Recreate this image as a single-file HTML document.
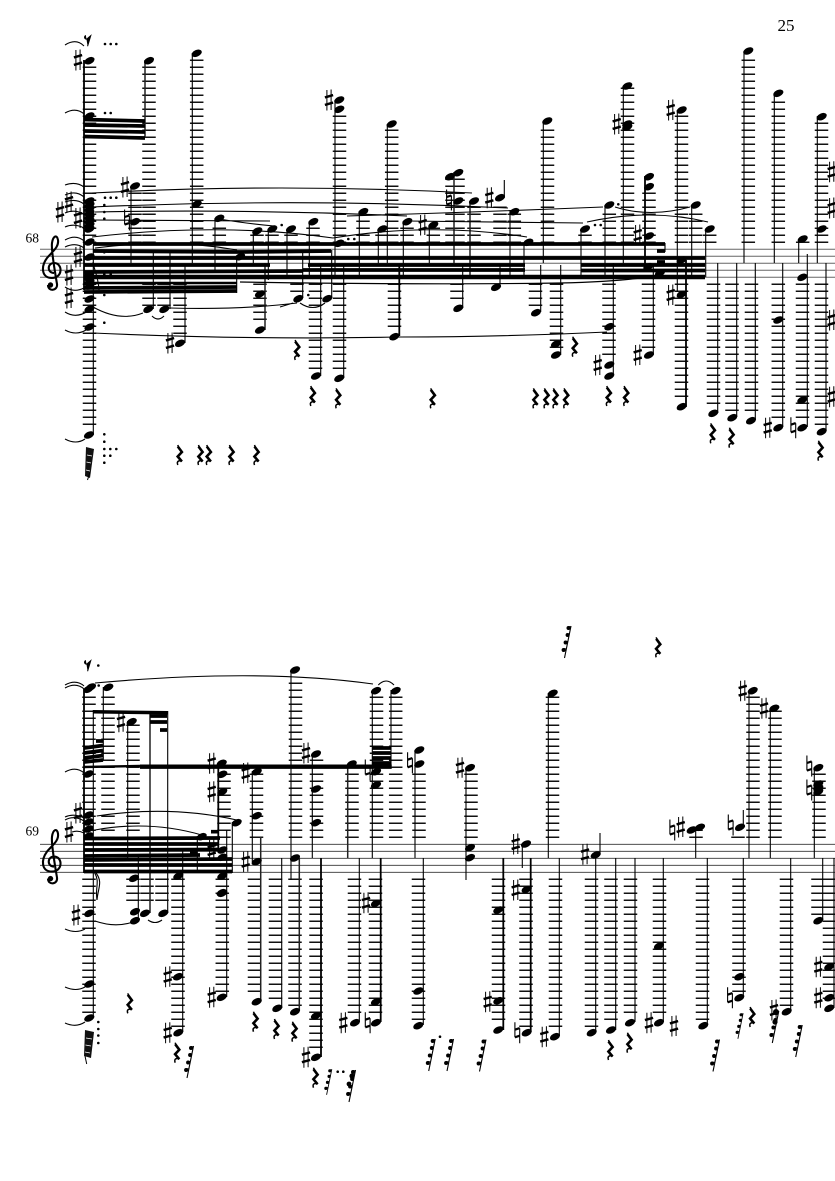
<!DOCTYPE html>
<html><head><meta charset="utf-8"><title>Score page 25</title>
<style>html,body{margin:0;padding:0;background:#fff;width:835px;height:1181px;overflow:hidden}svg{display:block}text{font-family:"Liberation Serif",serif;fill:#000}</style>
</head><body>
<svg width="835" height="1181" viewBox="0 0 835 1181">
<defs>
<ellipse id="n" cx="0" cy="0" rx="5.4" ry="3.3" transform="rotate(-25)"/>
<g id="s" fill="none" stroke="#000"><path d="M-2.1-10V10.5M2.1-10.5V10" stroke-width="1"/><path d="M-4.1-2.6 4.1-4.9M-4.1 4.9 4.1 2.6" stroke-width="2.5"/></g>
<g id="t" fill="none" stroke="#000"><path d="M-2.4-10.5V4.5M2.4-4.5V10.5" stroke-width="1.1"/><path d="M-2.4-3 2.4-4.6M-2.4 4.6 2.4 3" stroke-width="2.2"/></g>
<g id="r"><path fill="none" stroke="#000" stroke-width="2.6" d="M-1.5-8.5 2.6-3-1.6 1.5 2.6 6.5"/><path fill="none" stroke="#000" stroke-width="1.5" d="M-1.5-10-1-8.5M2.6 6.5C0 5-3 6-1.5 10"/></g>
<g id="f"><path d="M3.5-16-3 16" stroke="#000" stroke-width="1.1" fill="none"/><circle cx="1" cy="-14" r="2"/><circle cx=".1" cy="-7" r="2"/><circle cx="-1.9" cy=".5" r="2"/><circle cx="-3.9" cy="8" r="2"/><path d="M1-15.5 3.5-15M-.5-8 2-7.5M-2-.8 .5-.3M-4 6.5-1 7" stroke="#000" stroke-width="1"/></g>
<path id="e" fill="#000" stroke="#000" stroke-width="1" d="M-2-5.2a1.7 1.7 0 1 0 1.8 2.6L2.6-5 -.4 5M-.4-2.8"/>
<g id="c"><path fill="none" stroke="#000" stroke-width="2.1" d="M54 273C47 273 47 263 54 263C63 263 63 278 52 278C41 278 41 266 47 258C53 251 59 247 58 240C57 234 53 236 52 243C51 250 56 278 57 284C58 291 48 292 48 285"/><circle cx="50.5" cy="285" r="2.7"/></g>
</defs>

<text x="777.5" y="31" font-size="17">25</text>
<text x="25.5" y="242.5" font-size="13.5">68</text>
<text x="25.5" y="835.5" font-size="13.5">69</text>

<!-- staves -->
<path fill="none" stroke="#666" stroke-width="1" d="M40 249.3H835M40 256.3H835M40 263.3H835M40 270.3H835M40 277.3H835"/>
<path fill="none" stroke="#333" stroke-width=".9" d="M40 844.3H835M40 851.3H835M40 858.3H835M40 865.3H835M40 872.3H835"/>
<use href="#c"/><use href="#c" y="593.6"/>

<!-- ledger lines -->
<path fill="none" stroke="#111" stroke-width="13.5" stroke-dasharray="1.5 5.5" d="
M89.5 66.55V243M149 66.55V243M196.7 59.55V243M135 192.55V243M219.3 227.55V243M257 234.55V243M272 234.55V243M291 234.55V243M313 227.55V243M339.5 115.55V243M363 220.55V243M382 234.55V243M391.7 129.55V243M407 227.55V243M433.3 227.55V243M452 178.55V243M458 178.55V243M474 206.55V243M500 206.55V243M514.3 213.55V243M547.5 129.55V243M585 234.55V243M609.3 213.55V243M627.5 87.55V243M649 192.55V243M681.5 115.55V243M695.7 213.55V243M709.7 234.55V243M748.3 59.55V243M778.3 101.55V243M802.7 241.55V243M821.5 122.55V243
M89.5 283.55V429M149 283.55V306M164 283.55V306M180 283.55V337M260 283.55V323M297 283.55V292M315.5 283.55V372M339.5 283.55V372M394.5 283.55V330M457 283.55V302M535.5 283.55V306M556.5 283.55V351M609 283.55V358M648.5 283.55V351M681.5 283.55V400M713.5 283.55V407M732 283.55V414M751.5 283.55V414M778.3 283.55V421M802.5 283.55V421M821.5 283.55V428
M89 696.55V831M108 696.55V838M133 724.55V838M224 773.55V838M256.5 773.55V838M295.5 682.55V838M316.5 759.55V838M352 773.55V838M376.5 696.55V838M395.7 696.55V838M419 773.55V838M471 773.55V838M552.5 696.55V838M696 829.55V838M738 836.55V838M753 696.55V838M775 710.55V838M819 773.55V838
M89 878.55V1013M133 878.55V901M147 878.55V901M162 878.55V901M178 878.55V1027M222.3 878.55V992M254.5 878.55V996M275.5 878.55V1002M295 878.55V1006M316 878.55V1052M354.5 878.55V1017M375.5 878.55V1017M418.5 878.55V1020M498.5 878.55V1024M526 878.55V1027M555.5 878.55V1031M591.5 878.55V1027M611 878.55V1024M630.5 878.55V1017M659.5 878.55V1017M702.5 878.55V1020M739 878.55V992M786.5 878.55V1006M818 878.55V915M829.5 878.55V1003"/>

<!-- stems -->
<path fill="none" stroke="#000" stroke-width="1.1" d="M93.3 245V435M192.3 53V263M131 186V263M215 218V272M253.3 231V263M268.3 229V280M236.7 256V293M153.3 250V309M170 250V309M185 265V343M335 100V275M387.3 124V263M359.3 211V275M309.3 221V275M287 229V275M378.3 229V263M403.3 221V275M429.3 225V263M504.3 180V198M510 211V275M524 242V275M543.3 121V263M302.7 250V298M331.7 250V298M320.7 265V376M343.7 265V378M462.7 265V308M500 265V287M540.7 265V312M560.7 265V355M581 229V277M605 205V275M623.3 86V263M677.3 110V292M691.7 205V275M705.7 229V277M744 51V263M774.3 93V263M798.7 239V263M817.3 116V263M613.3 263V376M653.3 265V355M717.7 263V413M736.7 263V417M755.3 263V420M782.7 263V427M807.3 254V427M826 263V431
M103.3 687V760M127.7 721V858M93.3 710V1018M167.7 711V913M138.3 855V921M182.7 851V1032M232.3 822V873M197.3 836V872M226.7 830V997M252.3 771V862M281.7 858V1008M291 670V880M312.3 754V858M359.3 858V1022M372.3 690V858M391 690V766M415 750V858M423.3 858V1025M466 767V880M522.3 844V868M548.3 693V858M559.3 858V1036M595.7 855V1032M600 833V855M615.7 858V1030M635 858V1022M663.3 858V1022M695.7 830V858M707.3 858V1025M743.3 810V827M743.3 858V997M749 690V858M770.3 708V858M790.7 858V1011M814.3 767V858M822.7 858V920M834 858V1008"/>
<path fill="none" stroke="#222" stroke-width="1.5" d="M145 60V138M265 263V330M454 172V263M470 201V275M150 711V913M260.7 837V1001M299.3 858V1011M347.7 764V858"/>
<path fill="none" stroke="#000" stroke-width="1.8" d="M84 60V290M399.3 265V336M645 176V270M686 260V407M84 689V873M218.3 763V850M321 858V1057M380.7 858V1022M503.3 858V1030M530.7 858V1032"/>

<!-- beams -->
<path fill="none" stroke="#000" stroke-width="3.7" d="M84 119.5 145 121M84 125 145 126M84 131 145 132M84 136.5 145 138
M93 244H665M93 251 240 252M240 252 331 251M84 258H705M84 265H270M308 265H525M581 265H705M84 272 303 271M303 270H525M581 270.5H705M657 251H665M657 262H665
M84 288 237 287M84 292 237 291
M84 748 103 745.5M84 753 103 750.5M84 758 103 755.5M84 762 103 760M96 741H103M150 716H167M150 722H167M160 730H167
M84 838.5 220 838M84 844 218 844M84 850 218 849.5M84 856 200 855M84 860 232 859M84 865 232 865M84 871.5 232 871.5M211 831.7H218M190 852.7H197
M372 748H391M372 753H391M372 758H391M372 763H391"/>
<path fill="none" stroke="#000" stroke-width="4.4" d="M84 277H705M140 766.7H391.7"/>
<path fill="none" stroke="#000" stroke-width="2.4" d="M84 283 237 283M84 767 140 766"/>
<path fill="#000" d="M93 710 167.5 711V714.5L93 713.5Z"/>
<path fill="none" stroke="#000" stroke-width="1.1" d="M665 243V252M94.7 873C100 882 95 887 97 900M96 873C103 882 98 888 97 900M99 290C98 275 94 270 93 262"/>

<!-- slurs -->
<g fill="none" stroke="#000" stroke-width="1.1">
<path d="M92 193Q280 183 472 193M92 207Q300 198 508 208M95 212Q250 209 407 216M94 220 270 221M92 237Q220 222 333 238M333 238Q430 222 527 237M95 248Q170 238 237 250M347 216Q480 212 603 207M615 207Q650 218 690 207M407 221 583 223M587 222Q650 208 708 222M219 219Q250 224 274 226M93 307Q120 322 143 313M152 316Q158 322 164 316M170 308Q240 310 297 303M93 333Q250 340 400 337Q500 337 607 332M300 303Q313 312 325 303M280 307 293 303"/>
<path d="M240 282Q420 285 560 283Q610 282 640 278" stroke-width="1.2"/>
<path d="M65 45Q76 38 84 46M65 113Q76 107 84 114M65 185Q76 181 84 187M65 195Q76 190 84 197M65 202Q76 198 84 204M65 213Q74 209 84 214M65 227Q74 223 84 228M65 240Q76 234 84 241M65 247Q76 242 84 248M65 287Q74 293 84 288M65 312Q76 319 88 311M65 330Q76 336 86 330M65 439Q76 445 85 439"/>
<path d="M95 683Q260 668 373 684M378.3 685Q386 677 394 685M96.7 816Q170 805 236.7 820M95 830Q150 820 201.7 835M65 685Q76 679 84 686M65 688Q76 682 84 689M65 772Q76 766 84 773M65 817Q74 813 84 818M65 820Q74 815 84 821M72 832Q78 830 84 833M65 929Q76 934 85 929M65 987Q76 992 85 987M65 1023Q76 1028 85 1022M95 921Q115 928 133 922M148 920Q155 925 162 920"/>
</g>

<!-- notes system 1 -->
<g>
<use href="#n" x="89.5" y="60.7"/><use href="#n" x="89.5" y="116"/><use href="#n" x="89.5" y="201"/><use href="#n" x="89.5" y="205"/><use href="#n" x="89.5" y="209"/><use href="#n" x="89.5" y="213"/><use href="#n" x="89.5" y="217"/><use href="#n" x="89.5" y="221"/><use href="#n" x="89.5" y="225"/><use href="#n" x="89.5" y="229"/><use href="#n" x="89.5" y="242"/><use href="#n" x="89.5" y="257"/><use href="#n" x="89.5" y="274"/><use href="#n" x="89.5" y="278"/><use href="#n" x="89.5" y="282"/><use href="#n" x="89.5" y="286"/><use href="#n" x="89.5" y="299"/><use href="#n" x="89.5" y="309"/><use href="#n" x="89.5" y="327"/><use href="#n" x="89" y="435"/>
<use href="#n" x="149" y="60.7"/><use href="#n" x="196.7" y="53.3"/><use href="#n" x="196.7" y="204"/><use href="#n" x="135" y="186"/><use href="#n" x="135" y="221.7"/><use href="#n" x="219.3" y="218.3"/><use href="#n" x="257.3" y="231"/><use href="#n" x="272.3" y="229"/><use href="#n" x="240" y="256.7"/><use href="#n" x="148.3" y="309.3"/><use href="#n" x="164.3" y="309.3"/><use href="#n" x="180" y="343.3"/><use href="#n" x="260" y="330"/><use href="#n" x="260" y="294"/><use href="#n" x="298.3" y="298.7"/><use href="#n" x="327.3" y="298.7"/><use href="#n" x="316" y="376"/><use href="#n" x="339.3" y="378.3"/>
<use href="#n" x="339.3" y="100"/><use href="#n" x="339.3" y="109.3"/><use href="#n" x="391.7" y="124"/><use href="#n" x="363.3" y="211.7"/><use href="#n" x="313.3" y="221.7"/><use href="#n" x="291" y="229"/><use href="#n" x="339.3" y="243.3"/><use href="#n" x="382.3" y="229"/><use href="#n" x="407.3" y="221.7"/><use href="#n" x="433.3" y="225"/><use href="#n" x="450" y="176.7"/><use href="#n" x="458.3" y="172.7"/><use href="#n" x="458.3" y="201"/><use href="#n" x="474" y="201"/><use href="#n" x="500" y="197.7"/><use href="#n" x="514.3" y="211.7"/><use href="#n" x="528.3" y="242.3"/><use href="#n" x="547.3" y="121"/><use href="#n" x="458.3" y="308.3"/><use href="#n" x="496" y="287.3"/><use href="#n" x="536" y="312.7"/><use href="#n" x="394.3" y="336.7"/><use href="#n" x="556" y="344"/><use href="#n" x="556" y="355"/>
<use href="#n" x="585" y="229"/><use href="#n" x="609.3" y="205"/><use href="#n" x="627.3" y="86"/><use href="#n" x="627.3" y="124"/><use href="#n" x="627.3" y="127"/><use href="#n" x="649" y="176.7"/><use href="#n" x="649" y="186.7"/><use href="#n" x="649" y="236"/><use href="#n" x="648.3" y="266.7"/><use href="#n" x="660" y="273"/><use href="#n" x="681.7" y="110"/><use href="#n" x="695.7" y="205"/><use href="#n" x="709.7" y="229"/><use href="#n" x="681.7" y="260"/><use href="#n" x="681.7" y="294.3"/><use href="#n" x="681.7" y="406.7"/><use href="#n" x="748.3" y="51"/><use href="#n" x="778.3" y="93.3"/><use href="#n" x="821.7" y="116.7"/><use href="#n" x="821.7" y="229"/><use href="#n" x="802.7" y="239"/><use href="#n" x="802.3" y="277.3"/><use href="#n" x="778.3" y="320"/><use href="#n" x="609.3" y="326.7"/><use href="#n" x="609.3" y="365"/><use href="#n" x="609.3" y="376"/><use href="#n" x="649" y="355"/><use href="#n" x="713.3" y="413.3"/><use href="#n" x="732.3" y="417.7"/><use href="#n" x="751" y="420.7"/><use href="#n" x="778.3" y="427.7"/><use href="#n" x="802.3" y="400"/><use href="#n" x="802.3" y="427.7"/><use href="#n" x="821.7" y="431.7"/>
</g>
<!-- notes system 2 -->
<g>
<use href="#n" x="88.3" y="689.3"/><use href="#n" x="91" y="687"/><use href="#n" x="108.3" y="687.3"/><use href="#n" x="88.5" y="774"/><use href="#n" x="88.5" y="815"/><use href="#n" x="88.5" y="822"/><use href="#n" x="88.5" y="829"/><use href="#n" x="88.5" y="836"/><use href="#n" x="89.3" y="913.3"/><use href="#n" x="89.3" y="984"/><use href="#n" x="89.3" y="1018"/><use href="#n" x="131.7" y="721.7"/><use href="#n" x="134" y="878.3"/><use href="#n" x="178.3" y="876"/><use href="#n" x="135" y="911.7"/><use href="#n" x="135" y="920.7"/><use href="#n" x="145" y="913.3"/><use href="#n" x="163.3" y="913.3"/><use href="#n" x="178" y="976.7"/><use href="#n" x="178.3" y="1032.7"/>
<use href="#n" x="221.7" y="763.3"/><use href="#n" x="222.3" y="774.3"/><use href="#n" x="222.3" y="791.7"/><use href="#n" x="236.7" y="822.7"/><use href="#n" x="201.7" y="836.7"/><use href="#n" x="222.3" y="850"/><use href="#n" x="222.3" y="857.3"/><use href="#n" x="222.3" y="876"/><use href="#n" x="222.3" y="893.3"/><use href="#n" x="256.7" y="771.7"/><use href="#n" x="256.7" y="815.7"/><use href="#n" x="256.7" y="861.7"/><use href="#n" x="295" y="670"/><use href="#n" x="295" y="858"/><use href="#n" x="316" y="754"/><use href="#n" x="316" y="789"/><use href="#n" x="316" y="822.7"/><use href="#n" x="351.7" y="764"/><use href="#n" x="376" y="690.7"/><use href="#n" x="376" y="771.7"/><use href="#n" x="376" y="785"/><use href="#n" x="395.7" y="690.7"/><use href="#n" x="419.3" y="750"/><use href="#n" x="419.3" y="764"/><use href="#n" x="470" y="767.7"/><use href="#n" x="470" y="847.7"/><use href="#n" x="470" y="857.7"/><use href="#n" x="552.7" y="693.3"/><use href="#n" x="526" y="844"/><use href="#n" x="595.7" y="855"/><use href="#n" x="691.7" y="830"/><use href="#n" x="700" y="827.3"/><use href="#n" x="740" y="827.3"/><use href="#n" x="752.7" y="690.7"/><use href="#n" x="774.3" y="708.3"/><use href="#n" x="818.3" y="767.7"/><use href="#n" x="818.3" y="784"/><use href="#n" x="818.3" y="788"/><use href="#n" x="818.3" y="791.7"/>
<use href="#n" x="221.7" y="892.7"/><use href="#n" x="221.7" y="997.3"/><use href="#n" x="256.7" y="1001.7"/><use href="#n" x="277.3" y="1008.3"/><use href="#n" x="295" y="1011.7"/><use href="#n" x="316" y="1015.7"/><use href="#n" x="316" y="1057.3"/><use href="#n" x="355" y="1022.7"/><use href="#n" x="376" y="903.3"/><use href="#n" x="376" y="1001.7"/><use href="#n" x="376" y="1022.7"/><use href="#n" x="418.3" y="991"/><use href="#n" x="418.3" y="1025.7"/><use href="#n" x="498.3" y="910"/><use href="#n" x="498.3" y="1000.7"/><use href="#n" x="498.3" y="1030"/><use href="#n" x="526.7" y="889.3"/><use href="#n" x="526.7" y="1032.7"/><use href="#n" x="555" y="1036.7"/><use href="#n" x="591.7" y="1032.7"/><use href="#n" x="611" y="1030"/><use href="#n" x="630" y="1022.7"/><use href="#n" x="659" y="946"/><use href="#n" x="659" y="1022.7"/><use href="#n" x="703.3" y="1025.7"/><use href="#n" x="739.3" y="976.7"/><use href="#n" x="739.3" y="997.7"/><use href="#n" x="786.7" y="1011.7"/><use href="#n" x="818.3" y="920.7"/><use href="#n" x="829.3" y="966.7"/><use href="#n" x="829.3" y="997.7"/><use href="#n" x="829.3" y="1008.3"/>
</g>

<!-- sharps -->
<g>
<use href="#s" x="78" y="60"/><use href="#s" x="69" y="202"/><use href="#s" x="60" y="212"/><use href="#s" x="78" y="218"/><use href="#s" x="78" y="257"/><use href="#s" x="69" y="275"/><use href="#s" x="69" y="298"/><use href="#s" x="125" y="187"/><use href="#s" x="170" y="343"/><use href="#s" x="329" y="100"/><use href="#s" x="422.7" y="225"/><use href="#s" x="489.3" y="197.7"/><use href="#s" x="616.7" y="124"/><use href="#s" x="637.7" y="235"/><use href="#s" x="670.7" y="110"/><use href="#s" x="670.7" y="295"/><use href="#s" x="831.7" y="171.7"/><use href="#s" x="831.7" y="208"/><use href="#s" x="597.7" y="365"/><use href="#s" x="637.7" y="355"/><use href="#s" x="767.7" y="427.7"/><use href="#s" x="831.7" y="320"/><use href="#s" x="831.7" y="396.7"/>
<use href="#s" x="78" y="813"/><use href="#s" x="69" y="832"/><use href="#s" x="121" y="721.7"/><use href="#s" x="211.7" y="763.3"/><use href="#s" x="211.7" y="791.7"/><use href="#s" x="211.7" y="850"/><use href="#s" x="245.7" y="773"/><use href="#s" x="245.7" y="861.7"/><use href="#s" x="306" y="753"/><use href="#s" x="460" y="767.7"/><use href="#s" x="515.7" y="844"/><use href="#s" x="585" y="854.3"/><use href="#s" x="680.7" y="827"/><use href="#s" x="742.7" y="690.7"/><use href="#s" x="764" y="708.3"/><use href="#s" x="76" y="915"/><use href="#s" x="167.7" y="976.7"/><use href="#s" x="167.7" y="1032.7"/><use href="#s" x="211.7" y="997.3"/><use href="#s" x="306" y="1057.3"/><use href="#s" x="343.3" y="1022.7"/><use href="#s" x="366" y="902.7"/><use href="#s" x="487.7" y="1001.7"/><use href="#s" x="515.7" y="890"/><use href="#s" x="544.3" y="1036.7"/><use href="#s" x="649" y="1022.7"/><use href="#s" x="674" y="1026"/><use href="#s" x="818.3" y="966.7"/><use href="#s" x="818.3" y="997.7"/><use href="#s" x="774" y="1010"/>
</g>
<!-- naturals -->
<g>
<use href="#t" x="127" y="220"/><use href="#t" x="449" y="200"/><use href="#t" x="793.3" y="427.7"/><use href="#t" x="367.7" y="770"/><use href="#t" x="410" y="762.7"/><use href="#t" x="672.3" y="830"/><use href="#t" x="730.7" y="825"/><use href="#t" x="809.3" y="766"/><use href="#t" x="809.3" y="790"/><use href="#t" x="367.7" y="1022.7"/><use href="#t" x="517.3" y="1032.7"/><use href="#t" x="730" y="997.7"/>
</g>
<!-- quarter rests -->
<g>
<use href="#r" x="179.3" y="455"/><use href="#r" x="200" y="455"/><use href="#r" x="208.3" y="455"/><use href="#r" x="231" y="455"/><use href="#r" x="256" y="455"/><use href="#r" x="296.7" y="350"/><use href="#r" x="312.3" y="396"/><use href="#r" x="337.7" y="398.3"/><use href="#r" x="432.3" y="398.3"/><use href="#r" x="535" y="398.3"/><use href="#r" x="546" y="398.3"/><use href="#r" x="555" y="398.3"/><use href="#r" x="565.7" y="398.3"/><use href="#r" x="574.3" y="346.7"/><use href="#r" x="608.3" y="396"/><use href="#r" x="625.7" y="396"/><use href="#r" x="712.3" y="433.3"/><use href="#r" x="731" y="437.7"/><use href="#r" x="820" y="450.7"/>
<use href="#r" x="657.7" y="647.3"/><use href="#r" x="129.3" y="1003.3"/><use href="#r" x="176.7" y="1052.7"/><use href="#r" x="255" y="1021.7"/><use href="#r" x="276" y="1029"/><use href="#r" x="294" y="1031.7"/><use href="#r" x="315" y="1077.7"/><use href="#r" x="610" y="1050"/><use href="#r" x="629" y="1042.7"/><use href="#r" x="751.7" y="1017"/>
</g>
<!-- slanted flagged rests -->
<g>
<use href="#f" x="567.5" y="642"/><use href="#f" x="190" y="1062"/><use href="#f" transform="translate(329 1082) scale(.8)"/><use href="#f" x="352" y="1086"/><use href="#f" x="431.7" y="1055"/><use href="#f" x="450" y="1055"/><use href="#f" x="482.5" y="1055.5"/><use href="#f" x="716" y="1055.5"/><use href="#f" transform="translate(740.3 1026) scale(.8)"/><use href="#f" x="775.3" y="1027"/><use href="#f" x="798.7" y="1041"/>
</g>
<!-- small blobs -->
<path fill="#111" d="M86 447 94 449 90 478 85 476Z"/><path fill="#111" d="M85 1030 94 1032 91 1058 84 1056Z"/>
<path d="M87 455 92 456M86.5 462 91 463M86 470 90 471M86 1038 92 1039M85.5 1045 91 1046M85 1052 90 1053" stroke="#fff" stroke-width=".7"/>
<path d="M90 472 87.5 480M85 1056 86.7 1064" stroke="#000" stroke-width="1"/>
<circle cx="349" cy="1084" r="2.4"/><circle cx="352" cy="1076" r="2.6"/><circle cx="775" cy="1022" r="2.6"/><circle cx="776" cy="1012" r="3"/>
<use href="#e" transform="translate(88 41) scale(1.05)"/><use href="#e" transform="translate(88 666) scale(1.05)"/>

<!-- dots -->
<g>
<circle cx="105" cy="44" r="1.3"/><circle cx="110.7" cy="44" r="1.3"/><circle cx="116.3" cy="44" r="1.3"/><circle cx="105" cy="113" r="1.3"/><circle cx="110.7" cy="113" r="1.3"/><circle cx="105" cy="197.7" r="1.3"/><circle cx="110.7" cy="197.7" r="1.3"/><circle cx="116.3" cy="197.7" r="1.3"/><circle cx="104.3" cy="205" r="1.3"/><circle cx="104.3" cy="212" r="1.3"/><circle cx="104.3" cy="218.7" r="1.3"/><circle cx="104.3" cy="252.3" r="1.3"/><circle cx="104.3" cy="274.3" r="1.3"/><circle cx="110.7" cy="274.3" r="1.3"/><circle cx="104.3" cy="295" r="1.3"/><circle cx="104.3" cy="322.7" r="1.3"/><circle cx="104.3" cy="434.3" r="1.3"/><circle cx="104.3" cy="441.7" r="1.3"/><circle cx="104.3" cy="449" r="1.3"/><circle cx="110.3" cy="449" r="1.3"/><circle cx="116.3" cy="449" r="1.3"/><circle cx="104.3" cy="455.7" r="1.3"/><circle cx="110.3" cy="455.7" r="1.3"/><circle cx="104.3" cy="462.7" r="1.3"/><circle cx="308.3" cy="295" r="1.3"/><circle cx="348.3" cy="239" r="1.3"/><circle cx="354.3" cy="239" r="1.3"/><circle cx="281.7" cy="225" r="1.3"/><circle cx="618.3" cy="204.3" r="1.3"/><circle cx="595" cy="225" r="1.3"/><circle cx="600.7" cy="225" r="1.3"/>
<circle cx="98.7" cy="685.5" r="1.3"/><circle cx="98.3" cy="665.5" r="1.3"/><circle cx="98.3" cy="1022" r="1.3"/><circle cx="98.3" cy="1029" r="1.3"/><circle cx="98.3" cy="1035.5" r="1.3"/><circle cx="98.3" cy="1043" r="1.3"/><circle cx="337.7" cy="1071.7" r="1.3"/><circle cx="343.3" cy="1071.7" r="1.3"/><circle cx="440" cy="1036.7" r="1.3"/>
</g>
</svg>
</body></html>
